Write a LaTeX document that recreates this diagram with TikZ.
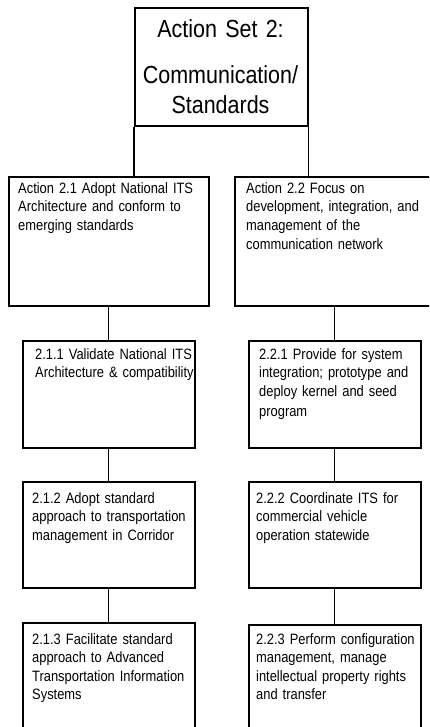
\documentclass[tikz,border=0pt]{standalone}
\usepackage{fontspec}
\setmainfont[FakeStretch=0.87]{Liberation Sans}
\newfontfamily\boxfont[FakeStretch=0.86,WordSpace=0.8]{Liberation Sans}
\begin{document}
\begin{tikzpicture}[x=1pt,y=-1pt,
  box/.style={draw, line width=1.6pt, anchor=north west, inner sep=0pt, minimum width=#1},
  txt/.style={anchor=base west, inner sep=0pt, text width=210pt, align=left, font=\boxfont\fontsize{15}{18.6}\selectfont},
  conn/.style={line width=1.3pt}]
\clip (0,0) rectangle (429,727);
\useasboundingbox (0,0) rectangle (429,727);
% boxes
\node[box=173pt, minimum height=118pt] (title) at (134,7) {};
\node[box=200pt, minimum height=129pt] (a21) at (8,176) {};
\node[box=200pt, minimum height=129pt] (a22) at (234,176) {};
\node[box=172pt, minimum height=107pt] (b211) at (22,340) {};
\node[box=172pt, minimum height=107pt] (b221) at (248,340) {};
\node[box=172pt, minimum height=106pt] (b212) at (22,481) {};
\node[box=172pt, minimum height=106pt] (b222) at (248,481) {};
\node[box=172pt, minimum height=130pt] (b213) at (22,622) {};
\node[box=172pt, minimum height=130pt] (b223) at (248,624) {};
% texts
\node[anchor=base, inner sep=0pt, text width=172pt, align=center, font=\fontsize{24.7}{30}\selectfont] (ttl) at (220.5,38)
  {Action Set 2:\\[16pt]Communication/\\Standards};
\node[txt] (t21) at (18,193.3) {Action 2.1 Adopt National ITS\\Architecture and conform to\\emerging standards};
\node[txt] (t22) at (246,193.3) {Action 2.2 Focus on\\development, integration, and\\management of the\\communication network};
\node[txt] (t211) at (35,359) {2.1.1 Validate National ITS\\Architecture \& compatibility};
\node[txt] (t221) at (259,359) {2.2.1 Provide for system\\integration; prototype and\\deploy kernel and seed\\[1.5pt]program};
\node[txt] (t212) at (32,503.3) {2.1.2 Adopt standard\\approach to transportation\\management in Corridor};
\node[txt] (t222) at (256,503.3) {2.2.2 Coordinate ITS for\\commercial vehicle\\operation statewide};
\node[txt] (t213) at (32,644) {2.1.3 Facilitate standard\\approach to Advanced\\Transportation Information\\Systems};
\node[txt] (t223) at (256,644) {2.2.3 Perform configuration\\management, manage\\intellectual property rights\\and transfer};
% connectors
\draw[conn] (title.south west) -- (title.south west |- a21.north);
\draw[conn] (title.south east) -- (title.south east |- a22.north);
\draw[conn] (a21.south) -- (b211.north);
\draw[conn] (a22.south) -- (b221.north);
\draw[conn] (b211.south) -- (b212.north);
\draw[conn] (b221.south) -- (b222.north);
\draw[conn] (b212.south) -- (b213.north);
\draw[conn] (b222.south) -- (b223.north);
\end{tikzpicture}
\end{document}
